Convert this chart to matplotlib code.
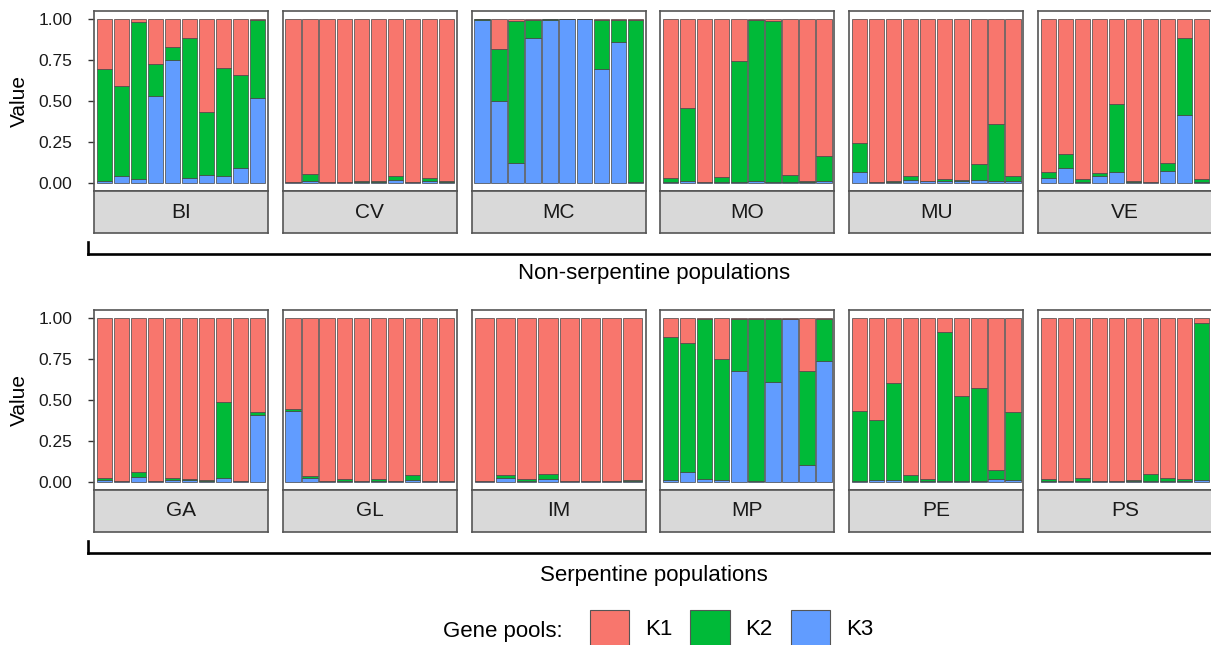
import numpy as np
import matplotlib
matplotlib.use("Agg")
import matplotlib.pyplot as plt
from matplotlib.lines import Line2D
from matplotlib.patches import Patch

plt.rcParams['font.family'] = ['Liberation Sans', 'DejaVu Sans']

# ---- data: admixture proportions per individual (K1 = remainder) ----
top_pops = ['BI', 'CV', 'MC', 'MO', 'MU', 'VE']
bottom_pops = ['GA', 'GL', 'IM', 'MP', 'PE', 'PS']
top_label = 'Non-serpentine populations'
bottom_label = 'Serpentine populations'

k3 = {
    'BI': [0.014, 0.039, 0.024, 0.528, 0.748, 0.028, 0.045, 0.039, 0.093, 0.520],
    'CV': [0.003, 0.010, 0.003, 0.003, 0.004, 0.004, 0.020, 0.003, 0.010, 0.004],
    'MC': [0.996, 0.498, 0.120, 0.888, 0.996, 1.000, 1.000, 0.693, 0.858, 0.005],
    'MO': [0.003, 0.010, 0.003, 0.003, 0.003, 0.014, 0.003, 0.003, 0.003, 0.010],
    'MU': [0.067, 0.003, 0.005, 0.018, 0.010, 0.014, 0.012, 0.020, 0.014, 0.014],
    'VE': [0.028, 0.091, 0.005, 0.039, 0.069, 0.005, 0.004, 0.075, 0.415, 0.005],
    'GA': [0.014, 0.003, 0.028, 0.002, 0.014, 0.012, 0.004, 0.026, 0.003, 0.407],
    'GL': [0.433, 0.024, 0.002, 0.004, 0.003, 0.003, 0.002, 0.012, 0.002, 0.002],
    'IM': [0.002, 0.024, 0.004, 0.016, 0.002, 0.002, 0.002, 0.003],
    'MP': [0.014, 0.059, 0.018, 0.014, 0.679, 0.005, 0.612, 0.996, 0.100, 0.736],
    'PE': [0.008, 0.010, 0.010, 0.003, 0.003, 0.003, 0.003, 0.003, 0.016, 0.010],
    'PS': [0.003, 0.002, 0.003, 0.002, 0.002, 0.003, 0.003, 0.003, 0.003, 0.014],
}
k2 = {
    'BI': [0.681, 0.554, 0.956, 0.198, 0.085, 0.854, 0.388, 0.662, 0.566, 0.474],
    'CV': [0.005, 0.045, 0.005, 0.005, 0.006, 0.006, 0.020, 0.005, 0.020, 0.008],
    'MC': [0.004, 0.319, 0.870, 0.108, 0.004, 0.000, 0.000, 0.303, 0.136, 0.991],
    'MO': [0.025, 0.447, 0.005, 0.032, 0.739, 0.982, 0.987, 0.042, 0.007, 0.153],
    'MU': [0.175, 0.005, 0.005, 0.021, 0.002, 0.012, 0.008, 0.092, 0.346, 0.026],
    'VE': [0.037, 0.088, 0.019, 0.020, 0.411, 0.005, 0.004, 0.045, 0.473, 0.019],
    'GA': [0.010, 0.005, 0.035, 0.003, 0.008, 0.006, 0.010, 0.460, 0.005, 0.022],
    'GL': [0.012, 0.009, 0.003, 0.012, 0.005, 0.017, 0.003, 0.027, 0.003, 0.003],
    'IM': [0.003, 0.015, 0.016, 0.031, 0.003, 0.003, 0.003, 0.011],
    'MP': [0.870, 0.791, 0.976, 0.736, 0.317, 0.993, 0.386, 0.002, 0.575, 0.258],
    'PE': [0.425, 0.370, 0.592, 0.036, 0.013, 0.910, 0.521, 0.568, 0.057, 0.419],
    'PS': [0.015, 0.006, 0.019, 0.003, 0.003, 0.011, 0.042, 0.019, 0.015, 0.956],
}

yticks = [0, 0.25, 0.5, 0.75, 1.0]
ytick_labels = ['0.00', '0.25', '0.50', '0.75', '1.00']
pools = ['K1', 'K2', 'K3']
colors = {'K1': '#F8766D', 'K2': '#00BA38', 'K3': '#619CFF'}

# ---- layout (pixels) ----
W, H = 1211, 645
fig = plt.figure(figsize=(W / 100, H / 100), dpi=100)


def px(x0, y0, w, h):
    return [x0 / W, 1 - (y0 + h) / H, w / W, h / H]


panel_w, panel_h, strip_h = 174, 180, 42
lefts = [94 + i * 188.8 for i in range(6)]
edge = '#444444'
border = '#555555'

rows = [(top_pops, 11, top_label, 254, 274), (bottom_pops, 310, bottom_label, 553, 575)]
for pops, top, label, line_y, label_y in rows:
    for i, pop in enumerate(pops):
        a3 = np.array(k3[pop])
        a2 = np.array(k2[pop])
        a1 = 1 - a3 - a2
        x = np.arange(1, len(a3) + 1)
        ax = fig.add_axes(px(lefts[i], top, panel_w, panel_h))
        ax.bar(x, a3, width=0.9, color=colors['K3'], edgecolor=edge, linewidth=0.5)
        ax.bar(x, a2, width=0.9, bottom=a3, color=colors['K2'], edgecolor=edge, linewidth=0.5)
        ax.bar(x, a1, width=0.9, bottom=a3 + a2, color=colors['K1'], edgecolor=edge, linewidth=0.5)
        ax.set_xlim(0.4, len(a3) + 0.6)
        ax.set_ylim(-0.05, 1.05)
        ax.set_xticks([])
        for s in ax.spines.values():
            s.set_color(border)
            s.set_linewidth(1.2)
        if i == 0:
            ax.set_yticks(yticks)
            ax.set_yticklabels(ytick_labels, fontsize=12.5, color='#1a1a1a')
            ax.tick_params(axis='y', length=4.5, width=1, color='#333333', pad=11)
            ax.set_ylabel('Value', fontsize=15)
            ax.yaxis.set_label_coords(-(lefts[0] - 29) / panel_w, 0.5)
        else:
            ax.set_yticks([])

        sax = fig.add_axes(px(lefts[i], top + panel_h, panel_w, strip_h))
        sax.set_facecolor('#D9D9D9')
        sax.set_xticks([])
        sax.set_yticks([])
        for s in sax.spines.values():
            s.set_color(border)
            s.set_linewidth(1.2)
        sax.text(0.5, 0.5, pop, ha='center', va='center', fontsize=15, color='#1a1a1a',
                 transform=sax.transAxes)

    # bracket under the row
    fig.add_artist(Line2D([88 / W, 1.01], [1 - line_y / H] * 2, color='black', lw=1.9,
                          transform=fig.transFigure))
    fig.add_artist(Line2D([88 / W, 88 / W], [1 - (line_y - 12) / H, 1 - line_y / H],
                          color='black', lw=1.9, transform=fig.transFigure))
    fig.text(654 / W, 1 - label_y / H, label, ha='center', va='center', fontsize=16)

# legend
fig.text(443 / W, 1 - 631 / H, 'Gene pools:', ha='left', va='center', fontsize=16)
handles = [Patch(facecolor=colors[k], edgecolor='#555555', linewidth=0.8) for k in pools]
fig.legend(handles, pools, loc='upper left', bbox_to_anchor=(590 / W, 1 - 610 / H),
           ncol=3, frameon=False, fontsize=16, borderpad=0, borderaxespad=0,
           handlelength=1.76, handleheight=2.15, handletextpad=0.72, columnspacing=0.81)

fig.savefig('out.png', dpi=100)
